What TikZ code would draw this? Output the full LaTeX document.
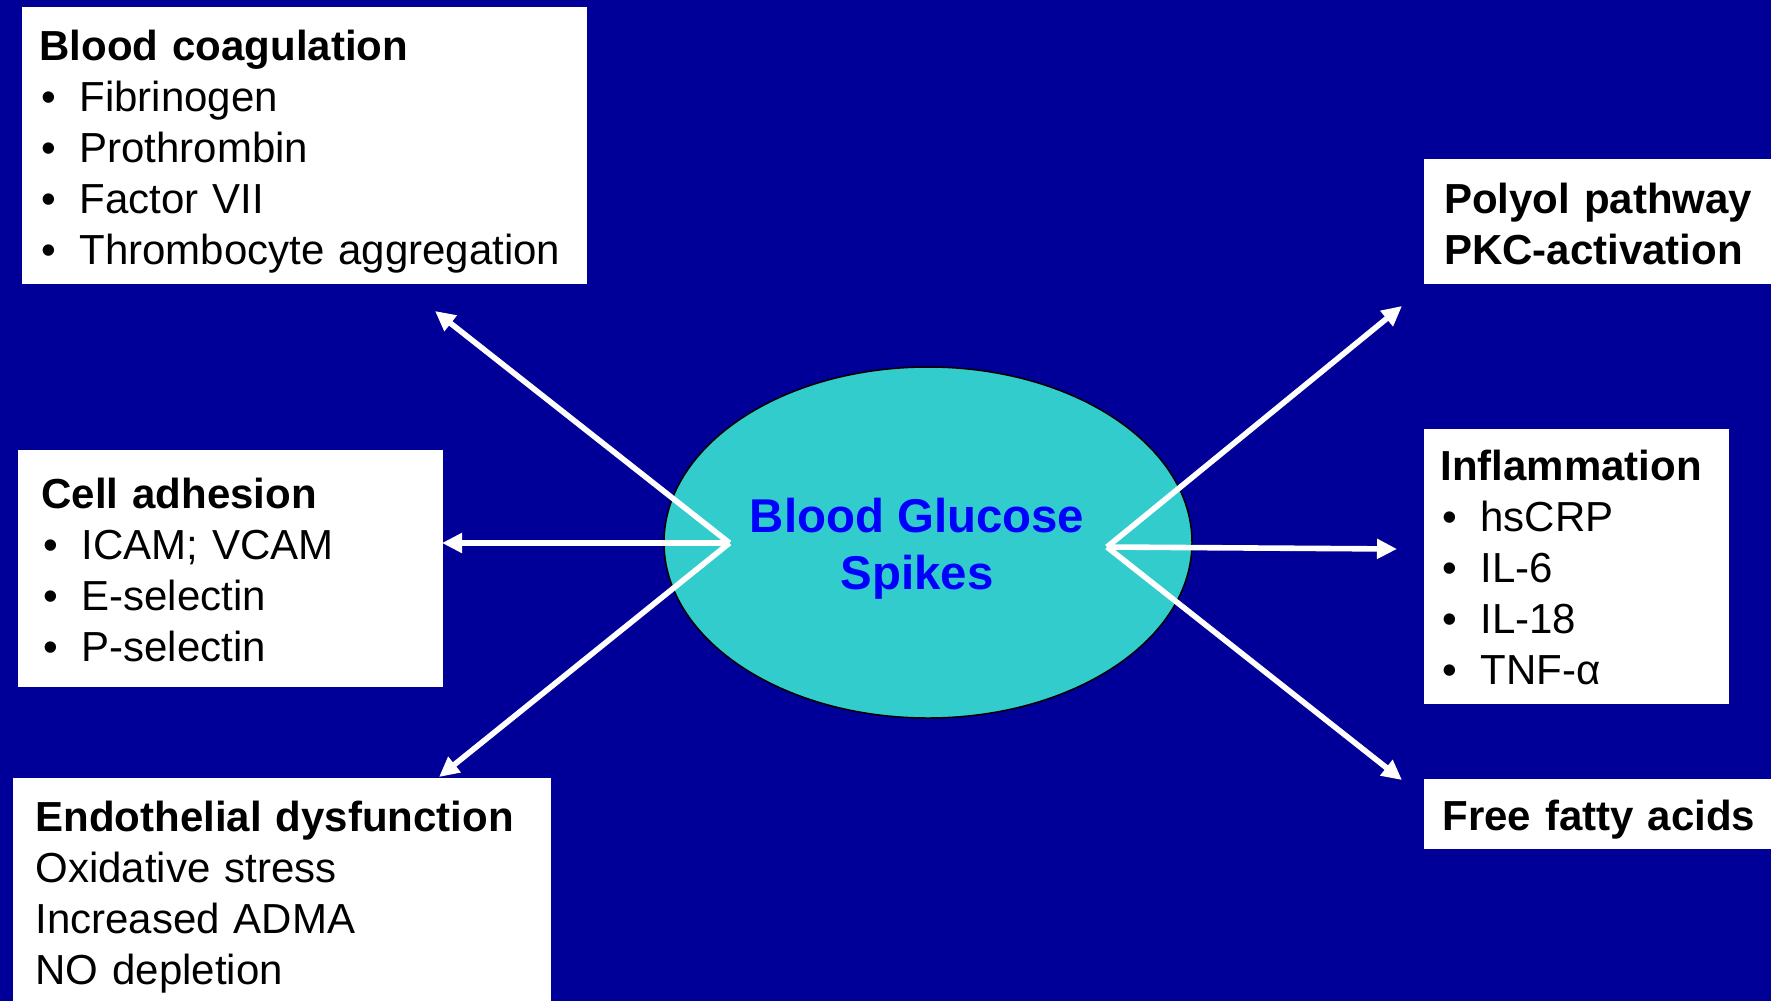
\documentclass[tikz,border=0pt]{standalone}
\usepackage{fontspec}
\setmainfont{Liberation Sans}
\usetikzlibrary{shapes.geometric,arrows.meta}

\definecolor{navy}{HTML}{000099}
\definecolor{turq}{HTML}{33CCCC}
\definecolor{glucoseblue}{HTML}{0000FF}

\newcommand{\bul}{\makebox[20pt][l]{\hspace{1pt}\textbullet}}
\newcommand{\headgap}[1]{\rule{0pt}{#1}}
\newcommand{\tailgap}[1]{\rule[-#1]{0pt}{#1}}

\begin{document}
\begin{tikzpicture}[x=0.5pt,y=-0.5pt]
        \tikzstyle{panel}=[fill=white, anchor=north west, inner ysep=0pt, align=left, font=\fontsize{21}{25.5}\selectfont]
        \tikzstyle{spoke}=[white, line width=2.8pt, -{Triangle[length=10pt,width=9.5pt]}]

        \fill[navy] (0,0) rectangle (1771,1001);
        \useasboundingbox (0,0) rectangle (1771,1001);

        \node[panel, inner xsep=8.65pt, text width=264.9pt] (coag) at (21.7,6.7) {\headgap{26.65pt}\textbf{Blood coagulation}\\ \bul Fibrinogen\\ \bul Prothrombin\\ \bul Factor VII\\ \bul Thrombocyte aggregation\tailgap{9.7pt}};
        \node[panel, inner xsep=11.85pt, text width=189pt] (adhesion) at (17.3,450) {\headgap{28.85pt}\textbf{Cell adhesion}\\ \bul ICAM; VCAM\\ \bul E-selectin\\ \bul P-selectin\tailgap{12.8pt}};
        \node[panel, inner xsep=11.3pt, text width=246.5pt] (endo) at (12.4,777.3) {\headgap{26.7pt}\textbf{Endothelial dysfunction}\\ Oxidative stress\\ Increased ADMA\\ NO depletion\tailgap{20pt}};
        \node[panel, inner xsep=10.2pt, text width=200pt] (polyol) at (1423.3,158.3) {\headgap{27.2pt}\textbf{Polyol pathway}\\ \textbf{PKC-activation}\tailgap{10.15pt}};
        \node[panel, inner xsep=8pt, text width=136.5pt] (inflam) at (1424,428.3) {\headgap{25.85pt}\textbf{Inflammation}\\ \bul hsCRP\\ \bul IL-6\\ \bul IL-18\\ \bul TNF-α\tailgap{9.65pt}};
        \node[panel, inner xsep=9pt, text width=200pt] (ffa) at (1424,778.3) {\headgap{25.85pt}\textbf{Free fatty acids}\tailgap{9.15pt}};

        \node[ellipse, draw=black, line width=0.75pt, fill=turq, minimum width=264pt, minimum height=175.5pt, inner sep=0pt] (glucose) at (928,542.5) {};
        \node[align=center, text=glucoseblue, font=\bfseries\fontsize{23.7}{28.4}\selectfont] (glucoseLabel) at (917,549) {Blood Glucose\\Spikes};

        \coordinate (hubL) at (729.5,543);
        \coordinate (hubR) at (1107,547);
        \coordinate (coagTip) at (435,311);
        \coordinate (adhesionTip) at (442,543);
        \coordinate (endoTip) at (439,777);
        \coordinate (polyolTip) at (1402,306);
        \coordinate (inflamTip) at (1397,549);
        \coordinate (ffaTip) at (1402,780);

        \draw[spoke] (hubL) -- (coagTip);
        \draw[spoke] (hubL) -- (adhesionTip);
        \draw[spoke] (hubL) -- (endoTip);
        \draw[spoke] (hubR) -- (polyolTip);
        \draw[spoke] (hubR) -- (inflamTip);
        \draw[spoke] (hubR) -- (ffaTip);
    \end{tikzpicture}
\end{document}
